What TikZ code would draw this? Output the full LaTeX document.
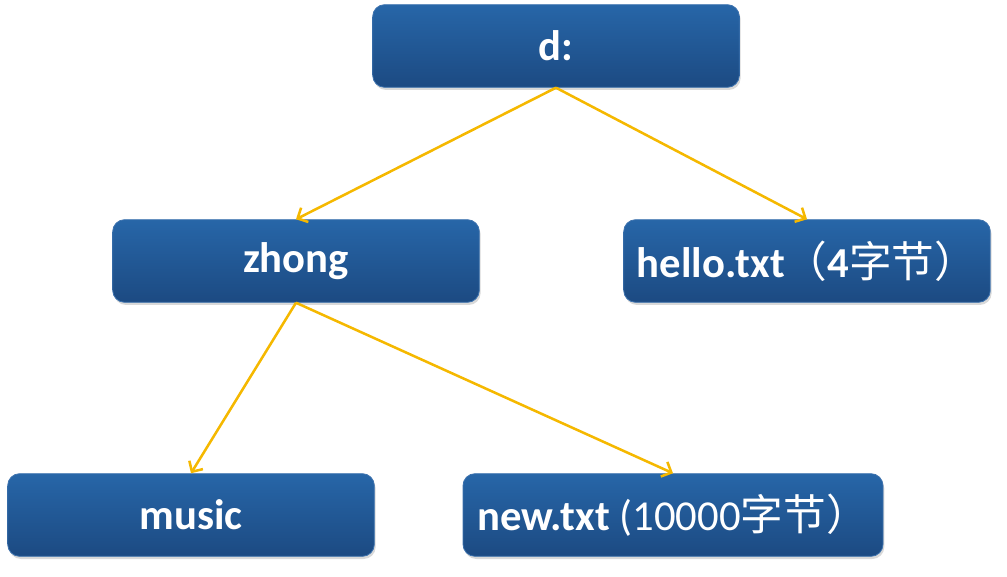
\documentclass[tikz,border=0pt]{standalone}
\usepackage{fontspec}
\setmainfont{Carlito}
\newfontfamily\cjk{Noto Sans CJK SC}
\usetikzlibrary{arrows.meta,positioning,shadows}
\definecolor{boxtop}{HTML}{2766A8}
\definecolor{boxbot}{HTML}{1C4A82}
\definecolor{boxline}{HTML}{3D72AE}
\definecolor{linkcol}{HTML}{F5B800}

\begin{document}
\begin{tikzpicture}[
			x=0.75pt, y=-0.75pt,
			folder/.style={draw=boxline,line width=0.6pt,rounded corners=9pt,
				top color=boxtop,bottom color=boxbot,
				minimum width=275pt,minimum height=62pt,inner sep=0pt,
				text=white,font=\fontsize{32}{38}\selectfont\bfseries,
				drop shadow={opacity=0.3,shadow xshift=1pt,shadow yshift=-2pt}},
			link/.style={draw=linkcol,line width=1.9pt,-{Straight Barb[length=6pt,width=12pt]}}
			]
			\useasboundingbox (0,0) rectangle (1007,577);
			
			\node[folder] (d) at (556,46) {d:};
			\node[folder] (zhong) at (296,261) {zhong};
			\node[folder] (hello) at (807,261) {hello.txt{\cjk\mdseries （}4{\cjk\mdseries 字节）}};
			\node[folder] (music) at (191,515) {music};
			\node[folder,minimum width=315pt] (new) at (673,515) {new.txt {\mdseries (10000}{\cjk\mdseries 字节）}};
			
			\draw[link] (d.south) -- (zhong.north);
			\draw[link] (d.south) -- (hello.north);
			\draw[link] (zhong.south) -- (music.north);
			\draw[link] (zhong.south) -- (new.north);
		\end{tikzpicture}
\end{document}
